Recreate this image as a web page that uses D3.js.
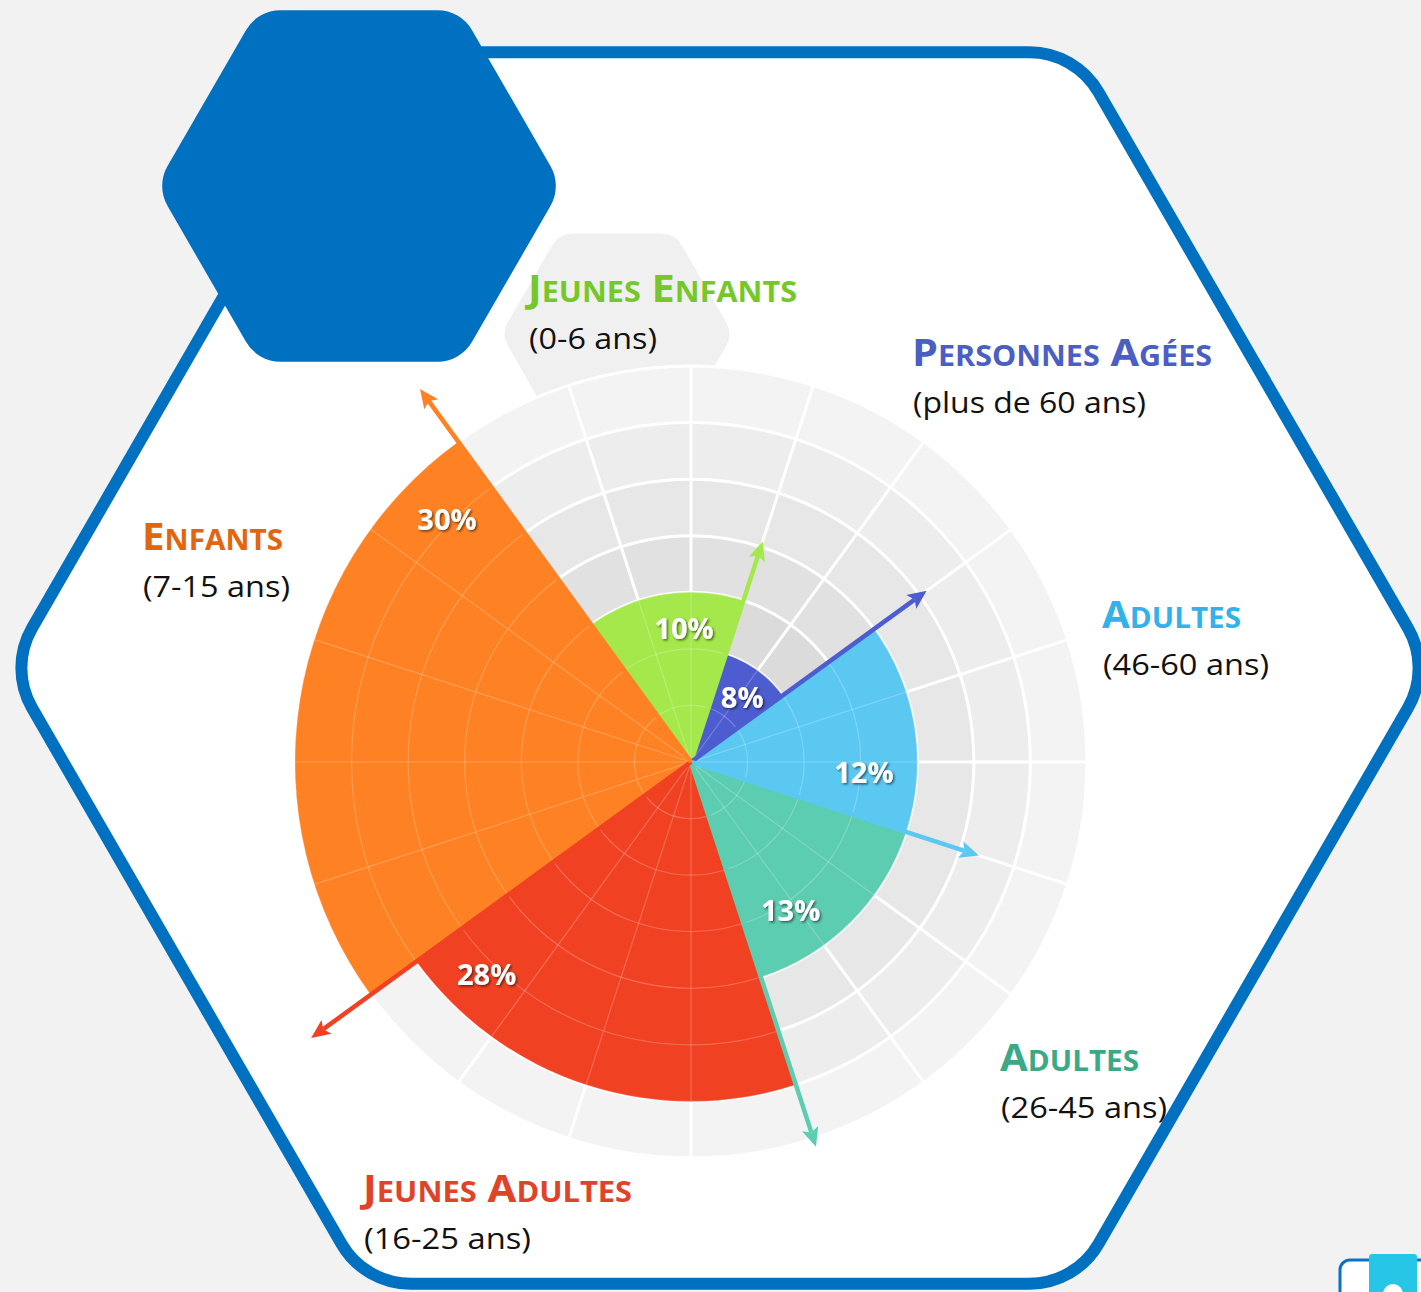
<!DOCTYPE html>
<html>
<head>
<meta charset="utf-8">
<script src="https://cdn.jsdelivr.net/npm/d3@7"></script>
<style>
  html, body { margin: 0; padding: 0; background: #f2f2f2; }
  svg { display: block; font-family: "Open Sans", "Liberation Sans", sans-serif; }
</style>
</head>
<body>
<svg id="chart" width="1421" height="1292"></svg>
<script>
// ---- data ----
var groups = ["Jeunes Enfants", "Personnes Agées", "Adultes", "Adultes", "Jeunes Adultes", "Enfants"];
var ages = ["(0-6 ans)", "(plus de 60 ans)", "(46-60 ans)", "(26-45 ans)", "(16-25 ans)", "(7-15 ans)"];
var shares = [10, 8, 12, 13, 28, 30];
var spans = [3, 2, 3, 3, 4, 5];            // wedge width, in grid sectors (20 per turn)
var reach = [3, 2, 4, 4, 6, 7];            // wedge radius, in grid rings
var arrowReach = [4.1, 5.15, 5.35, 7.15, 8.3, 8.15];
var sliceColors = ["#a4e84b", "#4d5dd0", "#5bc8f2", "#5ccdb0", "#f04123", "#fe8223"];
var textColors = ["#76c72a", "#4b5ec2", "#33b2ea", "#3aa986", "#df4328", "#e2650f"];

// ---- layout ----
var W = 1421, H = 1292;
var cx = 691, cy = 762;
var rings = 7, sectors = 20, startSector = -2;
var labelAt = [[-3, 2.38], [38, 1.47], [93, 3.06], [146, 3.15], [224, 5.2], [315, 6.1]]; // deg, rings
var titleAt = [[528, 302], [912, 366], [1102, 628], [1000, 1071], [363, 1202], [142, 550]];
var titleLen = [269, 300, 139, 139, 269, 141];
var ageLen = [128, 233, 166, 166, 167, 147];

var svg = d3.select("#chart");
var defs = svg.append("defs");

var r = d3.scaleLinear().domain([0, rings]).range([0, 396]);
var angle = d3.scaleLinear().domain([0, sectors]).range([0, 2 * Math.PI]);
var bandColor = d3.scaleLinear().domain([3, rings]).range(["#dbdbdb", "#f3f3f3"]).clamp(true);

function roundedHex(x, y, R, rad) {
  var pts = d3.range(6).map(function (i) {
    var a = Math.PI / 3 * i;
    return [x + R * Math.cos(a), y + R * Math.sin(a)];
  });
  var p = d3.path();
  p.moveTo((pts[5][0] + pts[0][0]) / 2, (pts[5][1] + pts[0][1]) / 2);
  for (var i = 0; i < 6; i++) {
    var a = pts[i], b = pts[(i + 1) % 6];
    p.arcTo(a[0], a[1], (a[0] + b[0]) / 2, (a[1] + b[1]) / 2, rad);
  }
  p.closePath();
  return p.toString();
}

var shadow = defs.append("filter").attr("id", "shadow")
  .attr("x", "-20%").attr("y", "-20%").attr("width", "140%").attr("height", "140%");
shadow.append("feDropShadow")
  .attr("dx", 1.5).attr("dy", 1.5).attr("stdDeviation", 1.2)
  .attr("flood-color", "#000").attr("flood-opacity", 0.55);

// background + big hexagon frame
svg.append("rect").attr("width", W).attr("height", H).attr("fill", "#f2f2f2");
svg.append("path")
  .attr("d", roundedHex(720, 668, 711, 80))
  .attr("fill", "#fff")
  .attr("stroke", "#0070c0")
  .attr("stroke-width", 12);

// faint hexagon behind the first title
svg.append("path")
  .attr("d", roundedHex(617, 334, 116, 24))
  .attr("fill", "#f0f0f0");

// ---- polar grid background ----
var plot = svg.append("g").attr("transform", "translate(" + cx + "," + cy + ")");

plot.selectAll(".band").data(d3.range(rings, 0, -1)).enter()
  .append("circle")
  .attr("class", "band")
  .attr("r", function (d) { return r(d); })
  .attr("fill", function (d) { return bandColor(d); });

function drawGrid(g, color, width, opacity) {
  g.selectAll(".ring").data(d3.range(1, rings + 1)).enter()
    .append("circle")
    .attr("class", "ring")
    .attr("r", function (d) { return r(d); })
    .attr("fill", "none")
    .attr("stroke", color)
    .attr("stroke-width", width)
    .attr("stroke-opacity", opacity);
  g.selectAll(".spoke").data(d3.range(sectors)).enter()
    .append("line")
    .attr("class", "spoke")
    .attr("x1", 0).attr("y1", 0)
    .attr("x2", function (d) { return r(rings) * Math.sin(angle(d)); })
    .attr("y2", function (d) { return -r(rings) * Math.cos(angle(d)); })
    .attr("stroke", color)
    .attr("stroke-width", width)
    .attr("stroke-opacity", opacity);
}
drawGrid(plot.append("g"), "#fff", 3, 1);

// ---- wedges ----
var wedges = [], s = startSector;
shares.forEach(function (v, i) {
  wedges.push({ i: i, share: v, start: s, end: s + spans[i], reach: reach[i] });
  s += spans[i];
});

var arc = d3.arc()
  .innerRadius(0)
  .outerRadius(function (d) { return r(d.reach); })
  .startAngle(function (d) { return angle(d.start); })
  .endAngle(function (d) { return angle(d.end); });

plot.selectAll(".wedge").data(wedges).enter()
  .append("path")
  .attr("class", "wedge")
  .attr("d", arc)
  .attr("fill", function (d) { return sliceColors[d.i]; });

// faint grid seen through the wedges
var clip = defs.append("clipPath").attr("id", "wedgeClip");
clip.selectAll("path").data(wedges).enter().append("path").attr("d", arc);
drawGrid(plot.append("g").attr("clip-path", "url(#wedgeClip)"), "#fff", 1.2, 0.22);

// ---- arrows along the closing edge of each wedge ----
var head = 19;
var arrows = plot.selectAll(".arrow").data(wedges).enter()
  .append("g")
  .attr("class", "arrow")
  .attr("transform", function (d) { return "rotate(" + (angle(d.end) * 180 / Math.PI) + ")"; });
arrows.append("line")
  .attr("x1", 0).attr("y1", 0)
  .attr("x2", 0).attr("y2", function (d) { return -(r(arrowReach[d.i]) - head + 4); })
  .attr("stroke", function (d) { return sliceColors[d.i]; })
  .attr("stroke-width", 4.5);
arrows.append("path")
  .attr("d", function (d) {
    var tip = -r(arrowReach[d.i]);
    return "M0," + tip + "L8.5," + (tip + head) + "L0," + (tip + head - 4) + "L-8.5," + (tip + head) + "Z";
  })
  .attr("fill", function (d) { return sliceColors[d.i]; });

// ---- percent labels ----
plot.selectAll(".pct").data(wedges).enter()
  .append("text")
  .attr("class", "pct")
  .attr("x", function (d) { var a = labelAt[d.i][0] * Math.PI / 180; return r(labelAt[d.i][1]) * Math.sin(a); })
  .attr("y", function (d) { var a = labelAt[d.i][0] * Math.PI / 180; return -r(labelAt[d.i][1]) * Math.cos(a); })
  .attr("text-anchor", "middle")
  .attr("dominant-baseline", "central")
  .attr("fill", "#fff")
  .attr("font-weight", 700)
  .attr("font-size", 29)
  .attr("filter", "url(#shadow)")
  .text(function (d) { return d.share + "%"; });

// ---- group titles (small caps) ----
var titles = svg.selectAll(".title").data(groups).enter()
  .append("g").attr("class", "title");

titles.append("text")
  .attr("x", function (d, i) { return titleAt[i][0]; })
  .attr("y", function (d, i) { return titleAt[i][1]; })
  .attr("fill", function (d, i) { return textColors[i]; })
  .attr("font-weight", 700)
  .attr("textLength", function (d, i) { return titleLen[i]; })
  .attr("lengthAdjust", "spacingAndGlyphs")
  .each(function (d) {
    var t = d3.select(this);
    d.split(" ").forEach(function (w, k) {
      t.append("tspan").attr("font-size", 38).text((k ? " " : "") + w[0].toUpperCase());
      t.append("tspan").attr("font-size", 28).text(w.slice(1).toUpperCase());
    });
  });

titles.append("text")
  .attr("x", function (d, i) { return titleAt[i][0] + 1; })
  .attr("y", function (d, i) { return titleAt[i][1] + 47; })
  .attr("fill", "#111")
  .attr("font-size", 30)
  .attr("textLength", function (d, i) { return ageLen[i]; })
  .attr("lengthAdjust", "spacingAndGlyphs")
  .text(function (d, i) { return ages[i]; });

// ---- solid hexagon, top left ----
svg.append("path")
  .attr("d", roundedHex(359, 186, 203, 40))
  .attr("fill", "#0070c0");

// ---- cut-off widget, bottom right ----
svg.append("rect")
  .attr("x", 1340).attr("y", 1260).attr("width", 120).attr("height", 80).attr("rx", 10)
  .attr("fill", "#fff").attr("stroke", "#0a72c2").attr("stroke-width", 3);
svg.append("rect")
  .attr("x", 1369).attr("y", 1254).attr("width", 48).attr("height", 50).attr("rx", 3)
  .attr("fill", "#25c6e6");
svg.append("circle").attr("cx", 1393).attr("cy", 1294).attr("r", 10).attr("fill", "#fff");
</script>
</body>
</html>
